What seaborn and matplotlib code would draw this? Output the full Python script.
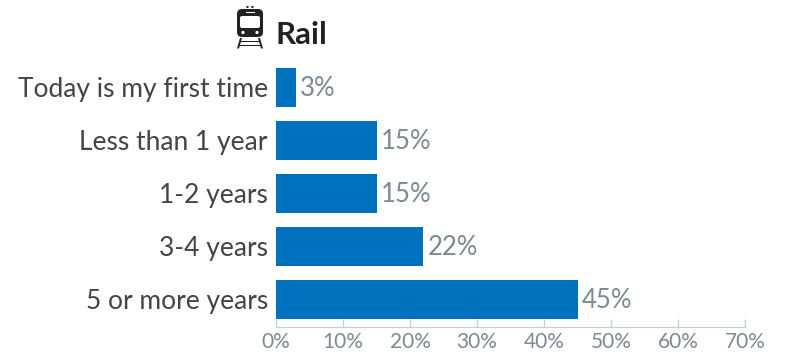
import matplotlib
matplotlib.use("Agg")
import matplotlib.pyplot as plt
import matplotlib.transforms as mtrans
import pandas as pd
import seaborn as sns
from matplotlib.patches import Rectangle, Circle, FancyBboxPatch, Polygon

categories = ["Today is my first time", "Less than 1 year", "1-2 years", "3-4 years", "5 or more years"]
values = [3, 15, 15, 22, 45]
ticks = [0, 10, 20, 30, 40, 50, 60, 70]

sns.set_style("white")
plt.rcParams['font.family'] = ['Lato', 'DejaVu Sans']

df = pd.DataFrame({"answer": categories, "pct": values})

fig = plt.figure(figsize=(7.86, 3.53), dpi=100)
ax = fig.add_axes([276/786, 1 - 326.5/353, (745-276)/786, (326.5-61)/353])
sns.barplot(data=df, y="answer", x="pct", color="#0071bc", saturation=1, width=0.735, linewidth=0, ax=ax)

ax.set_xlim(0, 70)
ax.set_xticks(ticks)
ax.set_xticklabels([f"{t}%" for t in ticks], fontsize=15, color="#7b8a94")
ax.set_xlabel("")
ax.set_ylabel("")
ax.tick_params(axis="y", length=0, pad=7, labelsize=19, labelcolor="#444444")
ax.tick_params(axis="x", direction="in", length=6, width=1, color="#c8ced2", pad=4, bottom=True)

# nudge category labels up and right a little
shift = mtrans.ScaledTranslation(1.5/100, 1/100, fig.dpi_scale_trans)
for lab in ax.get_yticklabels():
    lab.set_transform(lab.get_transform() + shift)

for s in ["top", "right", "left"]:
    ax.spines[s].set_visible(False)
ax.spines["bottom"].set_color("#c8ced2")

for i, v in enumerate(values):
    ax.text(v + 0.6, i + 0.01, f"{v}%", va="center", ha="left", fontsize=18.5, color="#7b8a94")

fig.text(275/786, 1 - 34.5/353, "Rail", fontsize=22.5, fontweight="bold", color="#222222", va="center", ha="left")

# train icon, drawn in pixel coordinates
ic = fig.add_axes([230/786, 1 - 52/353, 38/786, 46/353])
ic.set_xlim(230, 268)
ic.set_ylim(52, 6)
ic.axis("off")
dark = "#222222"
ic.add_patch(FancyBboxPatch((237, 9), 26, 28, boxstyle="round,pad=0,rounding_size=5", fc=dark, ec="none"))
ic.add_patch(FancyBboxPatch((240, 16), 20, 12, boxstyle="round,pad=0,rounding_size=2", fc="white", ec="none"))
ic.add_patch(Rectangle((245.5, 11.5), 9, 1.8, fc="white", ec="none"))
ic.add_patch(Circle((243, 32.5), 1.6, fc="white", ec="none"))
ic.add_patch(Circle((257, 32.5), 1.6, fc="white", ec="none"))
ic.add_patch(Circle((247.5, 6.8), 1.2, fc=dark, ec="none"))
ic.add_patch(Circle((252.5, 6.8), 1.2, fc=dark, ec="none"))
# track
ic.add_patch(Polygon([(240, 38), (242, 38), (239, 48.5), (237, 48.5)], fc=dark, ec="none"))
ic.add_patch(Polygon([(258, 38), (260, 38), (263, 48.5), (261, 48.5)], fc=dark, ec="none"))
ic.add_patch(Rectangle((240, 40.5), 20, 1.6, fc=dark, ec="none"))
ic.add_patch(Rectangle((238.5, 44.5), 23, 1.6, fc=dark, ec="none"))

fig.savefig("out.png", dpi=100)
